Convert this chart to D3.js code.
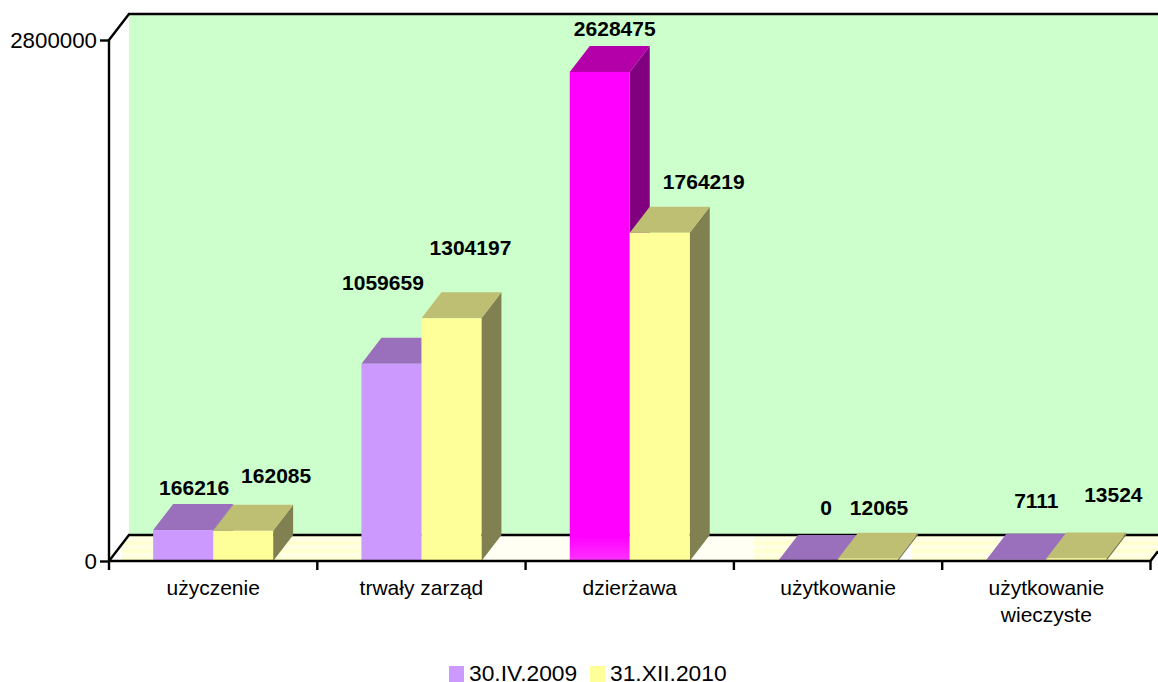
<!DOCTYPE html>
<html>
<head>
<meta charset="utf-8">
<script src="https://cdn.jsdelivr.net/npm/d3@7"></script>
<style>
html, body { margin: 0; padding: 0; background: #fff; overflow: hidden; }
text { font-family: "Liberation Sans", Arial, sans-serif; fill: #000; }
</style>
</head>
<body>
<div id="chart"></div>
<script>
const categories = ["użyczenie", "trwały zarząd", "dzierżawa", "użytkowanie", "użytkowanie|wieczyste"];
const seriesNames = ["30.IV.2009", "31.XII.2010"];
const values2009 = [166216, 1059659, 2628475, 0, 7111];
const values2010 = [162085, 1304197, 1764219, 12065, 13524];
const yTicks = [0, 2800000];

const width = 1158, height = 682;
const plotLeft = 109, plotRight = 1150.5, plotBottom = 561, plotTop = 40;
const depthX = 20, depthY = 26, barW = 60;

// hand placed in the original, dx from the bar's top centre / dy above it
const labelNudge2009 = [[1, 9], [-18.5, 48], [5, 10], [8, 20], [10, 26]];
const labelNudge2010 = [[23, 22], [9, 37], [34, 18], [1, 18], [27, 30.5]];

const colors2009 = { face: "#cc99ff", top: "#9a70bd", side: "#7a5c99" };
const colors2010 = { face: "#ffff99", top: "#bfbf73", side: "#808050" };
const colorsHighlight = { face: "#ff00ff", top: "#b400a8", side: "#800080" };

const x = d3.scaleBand().domain(categories).range([plotLeft, plotRight]);
const y = d3.scaleLinear().domain([0, 2800000]).range([plotBottom, plotTop]);

const svg = d3.select("#chart").append("svg")
    .attr("width", width)
    .attr("height", height);

const defs = svg.append("defs");

const magentaGrad = defs.append("linearGradient")
    .attr("id", "magentaFace").attr("x1", 0).attr("x2", 0).attr("y1", 0).attr("y2", 1);
magentaGrad.append("stop").attr("offset", "0%").attr("stop-color", "#ff00ff");
magentaGrad.append("stop").attr("offset", "95%").attr("stop-color", "#ff00ff");
magentaGrad.append("stop").attr("offset", "100%").attr("stop-color", "#ff33ff");

const stripes = defs.append("pattern")
    .attr("id", "floorStripes").attr("patternUnits", "userSpaceOnUse")
    .attr("x", 0).attr("y", 537).attr("width", 8).attr("height", 8);
stripes.append("rect").attr("width", 8).attr("height", 8).attr("fill", "#ffffe6");
stripes.append("rect").attr("y", 4).attr("width", 8).attr("height", 4).attr("fill", "#ffffd2");

const poly = pts => pts.map(p => p.join(",")).join(" ");

const floorRightY = plotBottom - depthY * (width - plotRight) / depthX;
const floorPts = [[plotLeft, plotBottom], [plotLeft + depthX, plotBottom - depthY], [width, plotBottom - depthY], [width, floorRightY], [plotRight, plotBottom]];

defs.append("clipPath").attr("id", "floorClip")
    .append("polygon").attr("points", poly(floorPts));

// Back wall
svg.append("polygon")
    .attr("fill", "#ccffcc")
    .attr("points", poly([[plotLeft + depthX, plotTop - depthY], [width, plotTop - depthY], [width, plotBottom - depthY], [plotLeft + depthX, plotBottom - depthY]]));

// Floor, the stripes only cover parts of it
svg.append("polygon").attr("fill", "#fffff4").attr("points", poly(floorPts));
const floorClip = svg.append("g").attr("clip-path", "url(#floorClip)");
const stripeRuns = [[122, 400], [754, 800], [912, 1000], [1090, 1158]];
const whiteRuns = [[109, 122], [890, 912]];
floorClip.selectAll(".white").data(whiteRuns).join("rect")
    .attr("class", "white")
    .attr("x", d => d[0]).attr("width", d => d[1] - d[0])
    .attr("y", plotBottom - depthY).attr("height", depthY)
    .attr("fill", "#fff");
floorClip.selectAll(".stripe").data(stripeRuns).join("rect")
    .attr("class", "stripe")
    .attr("x", d => d[0]).attr("width", d => d[1] - d[0])
    .attr("y", plotBottom - depthY).attr("height", depthY)
    .attr("fill", "url(#floorStripes)");

// Frame lines
const frame = svg.append("g").attr("fill", "none").attr("stroke", "#000").attr("stroke-width", 2.4);
frame.append("path").attr("d", `M${plotLeft},${plotBottom}L${plotLeft},${plotTop}L${plotLeft + depthX},${plotTop - depthY}L${width},${plotTop - depthY}`);
frame.append("path").attr("d", `M${plotLeft},${plotBottom}L${plotLeft + depthX},${plotBottom - depthY}L${width},${plotBottom - depthY}`);
frame.append("path").attr("d", `M${plotRight},${plotBottom}L${width},${floorRightY}`);

// Bars, 2009 first so the 2010 bar overlaps its side
function drawBar(g, x0, value, col, faceFill) {
    const yTop = y(value);
    g.append("polygon").attr("fill", col.side)
        .attr("points", poly([[x0 + barW, yTop], [x0 + barW + depthX, yTop - depthY], [x0 + barW + depthX, plotBottom - depthY], [x0 + barW, plotBottom]]));
    g.append("polygon").attr("fill", col.top)
        .attr("points", poly([[x0, yTop], [x0 + depthX, yTop - depthY], [x0 + barW + depthX, yTop - depthY], [x0 + barW, yTop]]));
    g.append("rect").attr("x", x0).attr("y", yTop)
        .attr("width", barW).attr("height", plotBottom - yTop)
        .attr("fill", faceFill || col.face);
}

const bars = svg.append("g");
categories.forEach((c, i) => {
    const mid = x(c) + x.bandwidth() / 2;
    const highlight = i === 2;
    drawBar(bars, mid - barW, values2009[i], highlight ? colorsHighlight : colors2009, highlight ? "url(#magentaFace)" : null);
    drawBar(bars, mid, values2010[i], colors2010);
});

// Value labels
const labels = svg.append("g")
    .attr("text-anchor", "middle")
    .style("font-size", "21px")
    .style("font-weight", "bold");
categories.forEach((c, i) => {
    const mid = x(c) + x.bandwidth() / 2;
    [[values2009, labelNudge2009, mid - barW / 2], [values2010, labelNudge2010, mid + barW / 2]].forEach(([vals, nudge, cx]) => {
        labels.append("text")
            .attr("x", cx + depthX / 2 + nudge[i][0])
            .attr("y", y(vals[i]) - depthY - nudge[i][1])
            .text(vals[i]);
    });
});

// Y axis
const yAxis = svg.append("g")
    .attr("transform", `translate(${plotLeft},0)`)
    .call(d3.axisLeft(y).tickValues(yTicks).tickFormat(d => d).tickSize(9).tickPadding(3));
yAxis.select(".domain").remove();
yAxis.selectAll("line").attr("stroke", "#000").attr("stroke-width", 2.4);
yAxis.selectAll("text").style("font-size", "22.3px").style("font-family", '"Liberation Sans"');

// X axis
const xAxis = svg.append("g")
    .attr("transform", `translate(0,${plotBottom})`);
xAxis.append("line")
    .attr("x1", plotLeft).attr("x2", plotRight)
    .attr("stroke", "#000").attr("stroke-width", 2.4);
const xTickPos = categories.map(c => x(c)).concat(plotRight);
xAxis.selectAll(".tick").data(xTickPos).join("line")
    .attr("class", "tick")
    .attr("x1", d => d).attr("x2", d => d)
    .attr("y1", 0).attr("y2", 9)
    .attr("stroke", "#000").attr("stroke-width", 2.4);
categories.forEach(c => {
    const t = xAxis.append("text")
        .attr("text-anchor", "middle")
        .attr("x", x(c) + x.bandwidth() / 2)
        .attr("y", 34)
        .style("font-size", "21px");
    c.split("|").forEach((part, j) => {
        t.append("tspan")
            .attr("x", x(c) + x.bandwidth() / 2)
            .attr("dy", j ? 27 : 0)
            .text(part);
    });
});

// Legend
const legendItems = [[colors2009.face, 449, 469], [colors2010.face, 590, 610]];
const legend = svg.append("g");
seriesNames.forEach((name, i) => {
    const [col, sx, tx] = legendItems[i];
    legend.append("rect").attr("x", sx).attr("y", 666).attr("width", 15).attr("height", 16).attr("fill", col);
    legend.append("text").attr("x", tx).attr("y", 681).style("font-size", "22.8px").text(name);
});
</script>
</body>
</html>
